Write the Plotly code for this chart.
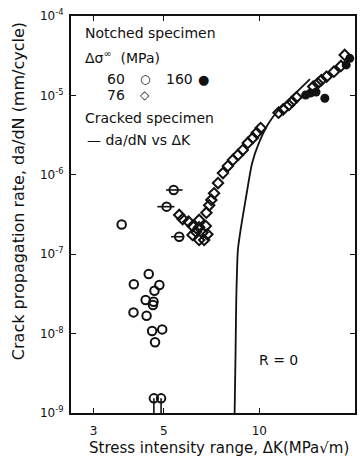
import plotly.graph_objects as go

# ---- data ----
# Notched specimen, 60 MPa (open circles)
dk_60 = [4.48, 4.02, 4.84, 4.67, 4.38, 4.64, 4.62, 4.01, 4.41, 4.59, 4.94, 4.69, 3.68]
rate_60 = [5.63e-8, 4.18e-8, 4.09e-8, 3.47e-8, 2.65e-8, 2.52e-8, 2.29e-8, 1.85e-8,
           1.68e-8, 1.08e-8, 1.13e-8, 7.8e-9, 2.37e-7]
# 60 MPa points with horizontal scatter bars
dk_60_bar = [5.37, 5.10, 5.59]
rate_60_bar = [6.44e-7, 3.97e-7, 1.66e-7]
dk_60_bar_lo = [5.08, 4.77, 5.27]
dk_60_bar_hi = [5.73, 5.40, 5.80]
# 60 MPa run-out points (stems down to the axis)
dk_60_run = [4.65, 4.90]
rate_60_run = [1.53e-9, 1.53e-9]

# Notched specimen, 76 MPa (open diamonds)
dk_76 = [5.59, 5.73, 5.98, 6.46, 6.16, 6.46, 6.78, 6.31, 6.62, 6.16, 6.86, 6.46, 6.70,
         6.81, 6.95, 7.06, 7.20,
         7.41, 7.68, 7.96, 8.26, 8.56, 8.87, 9.20, 9.54, 9.81, 10.1,
         11.5, 11.9, 12.4, 12.7, 13.1,
         14.8, 15.3, 15.7, 16.3, 17.2, 18.1, 18.6]
rate_76 = [3.12e-7, 2.77e-7, 2.57e-7, 2.70e-7, 2.26e-7, 2.18e-7, 2.26e-7, 1.92e-7, 1.87e-7,
           1.75e-7, 1.78e-7, 1.51e-7, 1.51e-7,
           3.33e-7, 4.13e-7, 4.82e-7, 5.85e-7,
           7.88e-7, 1.05e-6, 1.29e-6, 1.54e-6, 1.77e-6, 2.05e-6, 2.52e-6, 2.91e-6, 3.37e-6, 3.88e-6,
           6.05e-6, 6.68e-6, 7.57e-6, 8.34e-6, 9.46e-6,
           1.29e-5, 1.42e-5, 1.56e-5, 1.72e-5, 1.99e-5, 2.35e-5, 3.23e-5]

# Notched specimen, 160 MPa (filled circles)
dk_160 = [14.0, 14.5, 15.1, 16.1, 18.8, 19.3]
rate_160 = [1.01e-5, 1.07e-5, 1.10e-5, 9.2e-6, 2.42e-5, 2.93e-5]

# Cracked specimen: da/dN vs dK curve
dk_curve = [8.36, 8.42, 8.46, 8.56, 8.73, 9.05, 9.49, 9.96, 10.7, 11.5, 12.66, 14.45]
rate_curve = [1.0e-9, 6.2e-9, 2.65e-8, 1.13e-7, 2.02e-7, 4.8e-7, 1.4e-6, 2.49e-6,
              4.46e-6, 6.55e-6, 9.6e-6, 1.6e-5]

x_ticks = [3, 5, 10, 20]
x_ticktext = ["3", "5", "10", "20"]
y_ticks = [1e-9, 1e-8, 1e-7, 1e-6, 1e-5, 1e-4]
y_ticktext = ["10<sup>-9</sup>", "10<sup>-8</sup>", "10<sup>-7</sup>",
              "10<sup>-6</sup>", "10<sup>-5</sup>", "10<sup>-4</sup>"]
y_min = 1e-9

FONT = "DejaVu Sans"
INK = "#111111"

fig = go.Figure()

fig.add_trace(go.Scatter(
    x=dk_curve, y=rate_curve, mode="lines",
    line=dict(color=INK, width=1.8, shape="spline", smoothing=0.6),
    showlegend=False, hoverinfo="skip"))

open_marker = dict(symbol="circle-open", size=8.5, color=INK, line=dict(width=2, color=INK))
diamond_marker = dict(symbol="diamond-open", size=8, color=INK, line=dict(width=2, color=INK))

fig.add_trace(go.Scatter(x=dk_60, y=rate_60, mode="markers", marker=open_marker, showlegend=False))

fig.add_trace(go.Scatter(
    x=dk_60_bar, y=rate_60_bar, mode="markers", marker=open_marker, showlegend=False,
    error_x=dict(type="data", symmetric=False,
                 array=[h - x for h, x in zip(dk_60_bar_hi, dk_60_bar)],
                 arrayminus=[x - l for l, x in zip(dk_60_bar_lo, dk_60_bar)],
                 width=0, thickness=1.6, color=INK)))

fig.add_trace(go.Scatter(
    x=dk_60_run, y=rate_60_run, mode="markers", marker=open_marker, showlegend=False,
    error_y=dict(type="data", symmetric=False, array=[0, 0],
                 arrayminus=[y - y_min for y in rate_60_run],
                 width=0, thickness=1.6, color=INK)))

fig.add_trace(go.Scatter(x=dk_76, y=rate_76, mode="markers", marker=diamond_marker, showlegend=False))

fig.add_trace(go.Scatter(x=dk_160, y=rate_160, mode="markers",
                         marker=dict(symbol="circle", size=9, color=INK), showlegend=False))

axis_common = dict(
    showgrid=False, zeroline=False, showline=True, linecolor=INK, linewidth=2,
    mirror="ticks", ticks="inside", ticklen=5, tickwidth=1.2, tickcolor=INK,
    tickfont=dict(family=FONT, size=12, color=INK))

fig.update_xaxes(type="log", range=[0.406, 1.302], tickvals=x_ticks, ticktext=x_ticktext,
                 ticklabelstandoff=6, **axis_common)
fig.update_yaxes(type="log", range=[-9, -4], tickvals=y_ticks, ticktext=y_ticktext,
                 ticklabelstandoff=3, **axis_common)

def ann(text, x, y, size=14, xanchor="left", **kw):
    fig.add_annotation(text=text, x=x, y=y, xref="paper", yref="paper",
                       xanchor=xanchor, yanchor="middle", showarrow=False,
                       font=dict(family=FONT, size=size, color=INK), **kw)

ann("Notched specimen", 0.042, 0.957)
ann("Δσ<sup>∞</sup>  (MPa)", 0.042, 0.897)
ann("60", 0.119, 0.841)
ann("○", 0.259, 0.841, xanchor="center", size=12)
ann("160", 0.329, 0.841)
ann("●", 0.465, 0.841, xanchor="center", size=13)
ann("76", 0.119, 0.801)
ann("◇", 0.259, 0.801, xanchor="center", size=12)
ann("Cracked specimen", 0.042, 0.743)
ann("— da/dN vs ΔK", 0.049, 0.688)
ann("R = 0", 0.731, 0.134, xanchor="center")

fig.add_annotation(text="Stress intensity range, ΔK(MPa√m)", x=0.52, y=-0.088,
                   xref="paper", yref="paper", xanchor="center", yanchor="middle",
                   showarrow=False, font=dict(family=FONT, size=15, color=INK))
fig.add_annotation(text="Crack propagation rate, da/dN (mm/cycle)", x=-0.185, y=0.56,
                   xref="paper", yref="paper", xanchor="center", yanchor="middle",
                   textangle=-90, showarrow=False, font=dict(family=FONT, size=16, color=INK))

fig.update_layout(
    width=361, height=462,
    margin=dict(l=71, r=4, t=16, b=49),
    paper_bgcolor="white", plot_bgcolor="white",
    showlegend=False,
)

fig.write_html("out.html")
